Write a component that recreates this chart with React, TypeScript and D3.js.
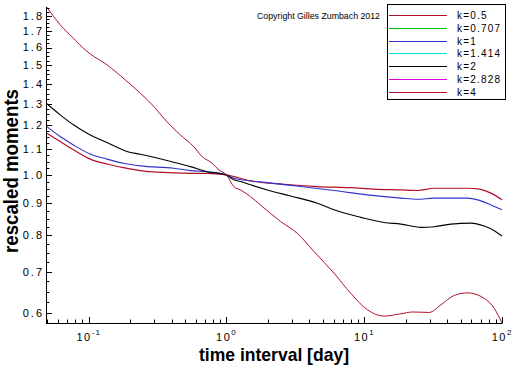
import React, { useEffect, useRef } from 'react';
import * as d3 from 'd3';

type Pt = [number, number];

const width = 512;
const height = 366;

const legendLabels = ['k=0.5', 'k=0.707', 'k=1', 'k=1.414', 'k=2', 'k=2.828', 'k=4'];
const legendColors = ['#b0102a', '#00c000', '#3333cc', '#00e0e0', '#000000', '#e000e0', '#b0102a'];

const yMajorTicks = [0.6, 0.7, 0.8, 0.9, 1.0, 1.1, 1.2, 1.3, 1.4, 1.5, 1.6, 1.7, 1.8];
const xMajorTicks = [0.1, 1, 10, 100];
const xTickExponents = ['-1', '0', '1', '2'];

// time interval [day], rescaled moment
const seriesK05: Pt[] = [
  [0.0497, 1.166], [0.0621, 1.131], [0.0775, 1.097], [0.1025, 1.06], [0.1356, 1.041],
  [0.1791, 1.027], [0.2368, 1.016], [0.3133, 1.01], [0.5472, 1.006], [0.7238, 1.006],
  [1, 1], [1.495, 0.978], [2.61, 0.966], [4.57, 0.958], [7.98, 0.954], [11.79, 0.949],
  [18.43, 0.946], [24.4, 0.944], [32.2, 0.952], [56.3, 0.952], [66.6, 0.95], [83.2, 0.935],
  [100, 0.912],
];

const seriesK1: Pt[] = [
  [0.0497, 1.195], [0.0621, 1.152], [0.0775, 1.117], [0.1025, 1.08], [0.1356, 1.06],
  [0.1791, 1.044], [0.2368, 1.034], [0.4137, 1.025], [0.5472, 1.016], [0.7238, 1.012],
  [1, 1], [1.13, 0.988], [1.977, 0.972], [3.45, 0.958], [6.03, 0.944], [10.55, 0.929],
  [18.43, 0.918], [24.4, 0.914], [32.2, 0.918], [56.3, 0.918], [66.6, 0.912], [83.2, 0.895],
  [100, 0.879],
];

const seriesK2: Pt[] = [
  [0.0497, 1.3], [0.0621, 1.248], [0.0775, 1.203], [0.0996, 1.163], [0.1356, 1.127],
  [0.1897, 1.09], [0.2368, 1.079], [0.3133, 1.064], [0.4137, 1.048], [0.5472, 1.031],
  [0.7238, 1.012], [1, 1], [1.13, 0.982], [1.264, 0.976], [1.495, 0.964], [1.977, 0.946],
  [2.92, 0.925], [4.57, 0.901], [6.03, 0.879], [9.43, 0.855], [13.93, 0.839], [18.43, 0.834],
  [25.76, 0.824], [32.2, 0.826], [42.6, 0.834], [59.5, 0.837], [74.3, 0.828], [87.9, 0.814],
  [100, 0.798],
];

const seriesK4: Pt[] = [
  [0.0497, 1.857], [0.0621, 1.74], [0.0775, 1.656], [0.0943, 1.586], [0.1025, 1.563],
  [0.1356, 1.501], [0.1843, 1.42], [0.2368, 1.352], [0.3046, 1.279], [0.35, 1.233],
  [0.4628, 1.159], [0.5783, 1.11], [0.6657, 1.07], [0.787, 1.044], [0.879, 1.019],
  [1, 1], [1.13, 0.958], [1.264, 0.946], [1.495, 0.923], [1.767, 0.895], [2.47, 0.842],
  [3.27, 0.806], [4.31, 0.754], [6.03, 0.696], [7.98, 0.646], [10.55, 0.608], [13.93, 0.594],
  [18.43, 0.599], [22.41, 0.603], [29.6, 0.602], [36, 0.619], [45, 0.641], [56.3, 0.647],
  [74.3, 0.634], [87.9, 0.611], [100, 0.579],
];

const drawnSeries: { data: Pt[]; color: string; w: number }[] = [
  { data: seriesK05, color: legendColors[0], w: 1.2 },
  { data: seriesK1, color: legendColors[2], w: 1.1 },
  { data: seriesK2, color: legendColors[4], w: 1.1 },
  { data: seriesK4, color: legendColors[6], w: 1 },
];

const tickFont = '"Liberation Sans", Arial, sans-serif';

function App() {
  const ref = useRef<SVGSVGElement>(null);

  useEffect(() => {
    if (!ref.current) return;
    const svg = d3.select(ref.current);
    svg.selectAll('*').remove();

    const left = 46, right = 502, top = 7, bottom = 323;
    const x = d3.scaleLog().domain([0.049, 100]).range([left, right]);
    const y = d3.scaleLog().domain([0.579, 1.858]).range([bottom, top]);

    svg.append('rect').attr('width', width).attr('height', height).attr('fill', '#fff');

    // curves
    const line = d3.line<Pt>()
      .x(d => x(d[0]))
      .y(d => y(d[1]))
      .curve(d3.curveMonotoneX);
    drawnSeries.forEach(s => {
      svg.append('path')
        .attr('d', line(s.data))
        .attr('fill', 'none')
        .attr('stroke', s.color)
        .attr('stroke-width', s.w);
    });

    // axes lines
    const axis = svg.append('g').attr('stroke', '#000').attr('stroke-width', 1);
    axis.append('line').attr('x1', left + 0.5).attr('x2', left + 0.5).attr('y1', top).attr('y2', bottom + 0.5);
    axis.append('line').attr('x1', left).attr('x2', right + 0.5).attr('y1', bottom + 0.5).attr('y2', bottom + 0.5);

    // y ticks (inward)
    const [y0, y1] = y.domain();
    const yMinor = d3.range(0.575, 1.876, 0.025).filter(v => v >= y0 && v <= y1);
    yMinor.forEach(v => {
      const isMajor = Math.abs(Math.round(v * 10) - v * 10) < 1e-6;
      const py = Math.round(y(v)) + 0.5;
      axis.append('line').attr('x1', left).attr('x2', left + (isMajor ? 6 : 3.5)).attr('y1', py).attr('y2', py);
    });
    svg.append('g').selectAll('text').data(yMajorTicks).enter().append('text')
      .attr('x', 44)
      .attr('y', d => y(d))
      .attr('dy', '0.36em')
      .attr('text-anchor', 'end')
      .attr('font-family', tickFont)
      .attr('font-size', 11)
      .attr('letter-spacing', 2)
      .text(d => d.toFixed(1));

    // x ticks (inward)
    const [x0, x1] = x.domain();
    const xMinor: number[] = [];
    [0.01, 0.1, 1, 10].forEach(dec => d3.range(2, 10).forEach(m => {
      const v = dec * m;
      if (v >= x0 && v <= x1) xMinor.push(v);
    }));
    xMinor.forEach(v => {
      const px = Math.round(x(v)) + 0.5;
      axis.append('line').attr('x1', px).attr('x2', px).attr('y1', bottom).attr('y2', bottom - 3.5);
    });
    xMajorTicks.forEach(v => {
      const px = Math.round(x(v)) + 0.5;
      axis.append('line').attr('x1', px).attr('x2', px).attr('y1', bottom).attr('y2', bottom - 6);
    });
    const xl = svg.append('g').selectAll('text').data(xMajorTicks).enter().append('text')
      .attr('x', d => x(d))
      .attr('y', 341)
      .attr('text-anchor', 'middle')
      .attr('font-family', tickFont)
      .attr('font-size', 11)
      .attr('letter-spacing', 1.5);
    xl.append('tspan').text('10');
    xl.append('tspan')
      .attr('dy', -6)
      .attr('font-size', 8)
      .attr('letter-spacing', 1)
      .text((d, i) => xTickExponents[i]);

    // axis titles
    svg.append('text')
      .attr('x', 274)
      .attr('y', 361)
      .attr('text-anchor', 'middle')
      .attr('font-family', tickFont)
      .attr('font-weight', 'bold')
      .attr('font-size', 19)
      .attr('textLength', 150)
      .attr('lengthAdjust', 'spacingAndGlyphs')
      .text('time interval [day]');
    svg.append('text')
      .attr('transform', 'translate(18,171) rotate(-90)')
      .attr('text-anchor', 'middle')
      .attr('font-family', tickFont)
      .attr('font-weight', 'bold')
      .attr('font-size', 20)
      .attr('textLength', 164)
      .attr('lengthAdjust', 'spacingAndGlyphs')
      .text('rescaled moments');

    // copyright
    svg.append('text')
      .attr('x', 257)
      .attr('y', 19)
      .attr('font-family', tickFont)
      .attr('font-size', 9)
      .attr('textLength', 123)
      .attr('lengthAdjust', 'spacingAndGlyphs')
      .text('Copyright Gilles Zumbach 2012');

    // legend
    const lg = svg.append('g');
    lg.append('rect')
      .attr('x', 387.5).attr('y', 4.5).attr('width', 118).attr('height', 95)
      .attr('fill', '#fff').attr('stroke', '#000').attr('stroke-width', 1);
    const rowY = d3.scaleLinear().domain([0, legendLabels.length - 1]).range([15, 91.7]);
    legendLabels.forEach((label, i) => {
      const py = Math.round(rowY(i)) + 0.5;
      lg.append('line')
        .attr('x1', 389).attr('x2', 447).attr('y1', py).attr('y2', py)
        .attr('stroke', legendColors[i]).attr('stroke-width', 1.2);
      lg.append('text')
        .attr('x', 457).attr('y', py)
        .attr('dy', '0.36em')
        .attr('font-family', tickFont)
        .attr('font-size', 10)
        .attr('letter-spacing', 1.2)
        .text(label);
    });
  }, []);

  return (
    <svg
      ref={ref}
      width={width}
      height={height}
      style={{ position: 'absolute', left: 0, top: 0, display: 'block' }}
    />
  );
}

export default App;
